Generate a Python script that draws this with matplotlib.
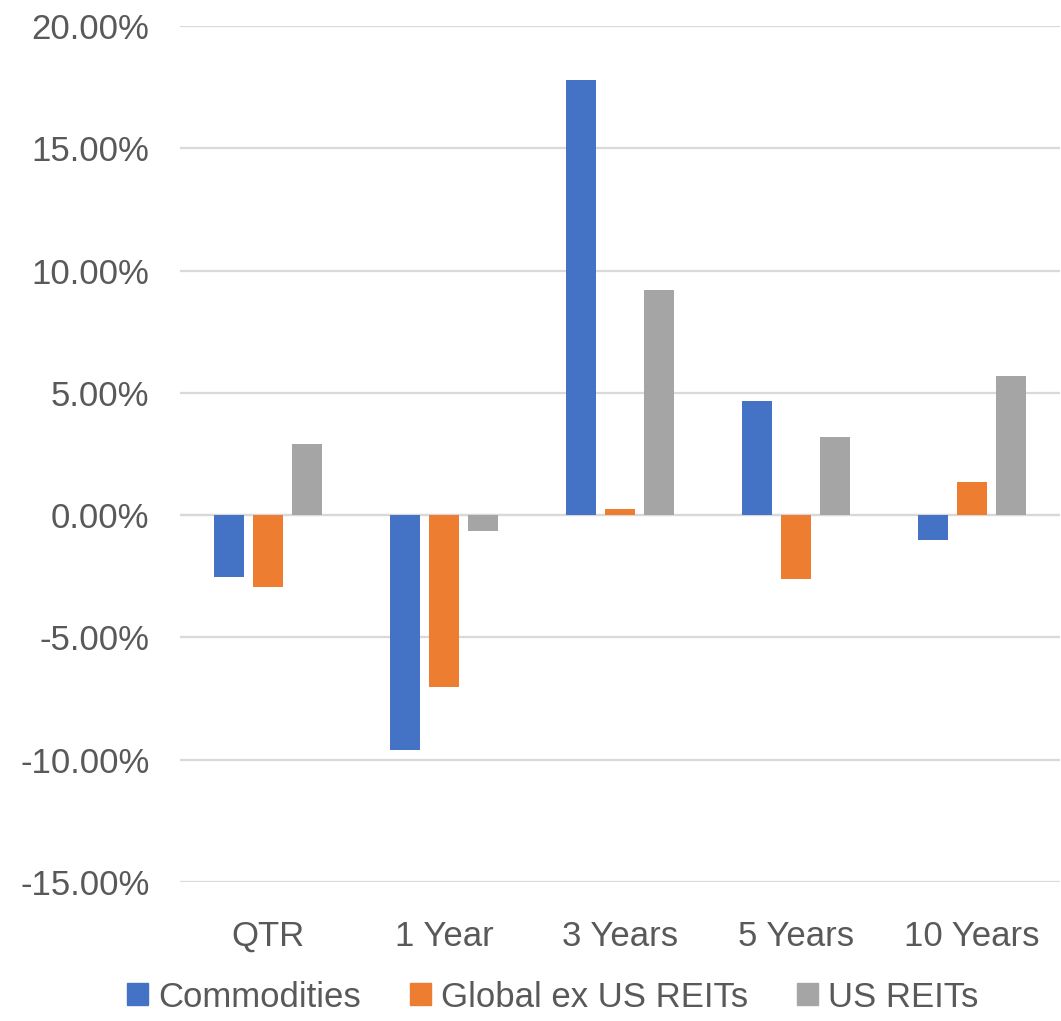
import matplotlib
matplotlib.use("Agg")
import matplotlib.pyplot as plt
import numpy as np
from matplotlib.ticker import FuncFormatter
from matplotlib.patches import Patch

categories = ["QTR", "1 Year", "3 Years", "5 Years", "10 Years"]
series_names = ["Commodities", "Global ex US REITs", "US REITs"]
commodities = [-2.51, -9.60, 17.79, 4.66, -1.00]
global_ex_us_reits = [-2.94, -7.03, 0.25, -2.60, 1.36]
us_reits = [2.91, -0.65, 9.19, 3.20, 5.69]
y_ticks = [-15, -10, -5, 0, 5, 10, 15, 20]

colors = ["#4472C4", "#ED7D31", "#A5A5A5"]
text_color = "#595959"
fam = ["Liberation Sans", "DejaVu Sans"]
plt.rcParams["font.family"] = fam

fig = plt.figure(figsize=(10.61, 10.21), dpi=100)
ax = fig.add_axes([180/1061, 1-882/1021, 880/1061, (882-26)/1021])

x = np.arange(len(categories))
width = 0.172
pitch = 0.222
for i, (vals, name) in enumerate(zip([commodities, global_ex_us_reits, us_reits], series_names)):
    ax.bar(x + (i-1)*pitch, vals, width, color=colors[i], label=name, zorder=3)

ax.set_xlim(-0.5, len(categories)-0.5)
ax.set_ylim(-15, 20)
ax.set_yticks(y_ticks)
ax.yaxis.set_major_formatter(FuncFormatter(lambda v, p: f"{v:.2f}%"))
ax.grid(axis="y", color="#D9D9D9", linewidth=1.6, zorder=0)
ax.axhline(0, color="#D9D9D9", linewidth=1.6, zorder=1)
for s in ax.spines.values():
    s.set_visible(False)
ax.set_xticks(x)
ax.set_xticklabels(categories)
ax.tick_params(axis="both", length=0, labelsize=25, colors=text_color)
ax.tick_params(axis="y", pad=22)
ax.tick_params(axis="x", pad=27)

handles = [Patch(color=c) for c in colors]
fig.legend(handles, series_names, loc="center", bbox_to_anchor=(553/1061, 1-997/1021),
           ncol=3, frameon=False, fontsize=25, labelcolor=text_color,
           handlelength=0.6, handleheight=0.6, handletextpad=0.3, columnspacing=1.4)

fig.savefig("out.png", dpi=100)
